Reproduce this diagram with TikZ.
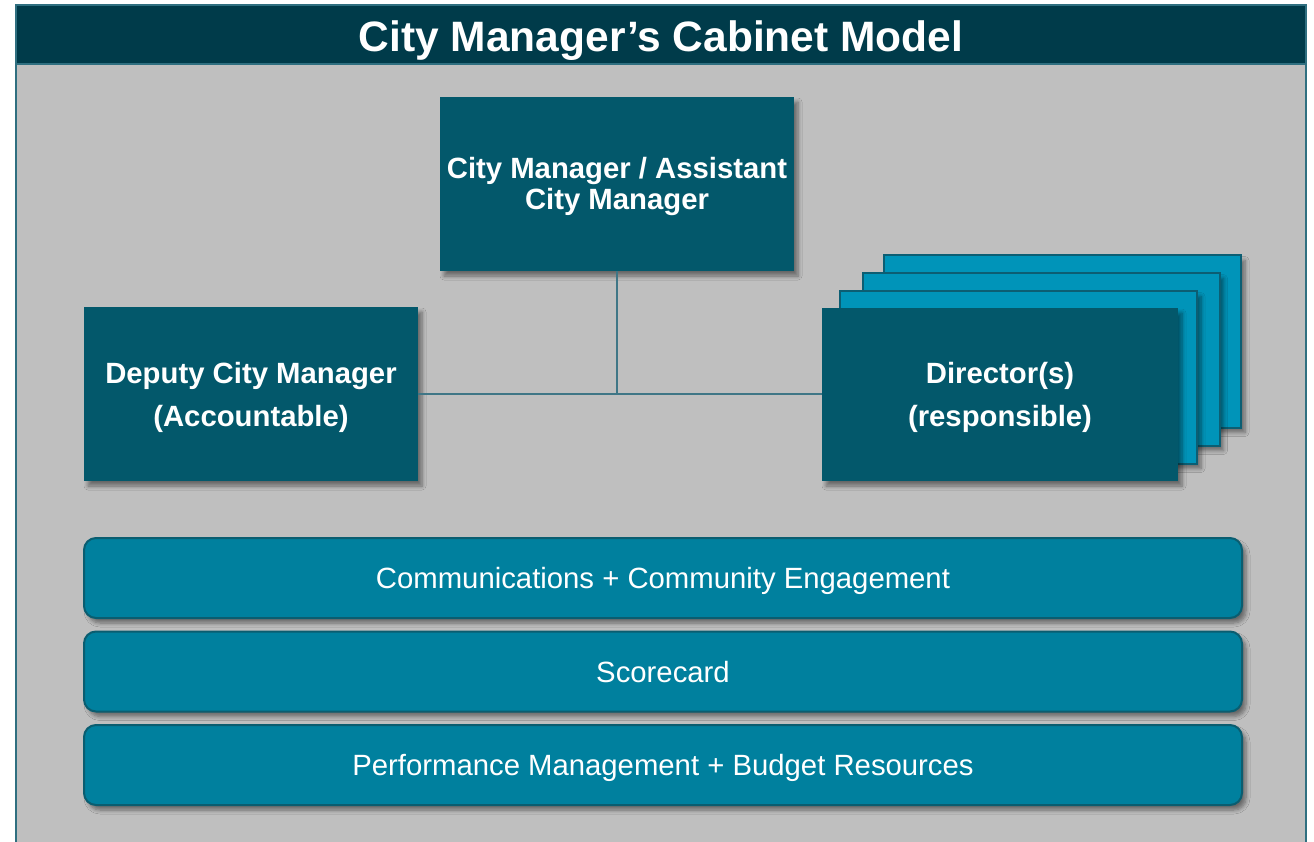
\documentclass[tikz,border=0pt]{standalone}
\usepackage{fontspec}
\setmainfont{Liberation Sans}
\usetikzlibrary{shadows.blur}
\definecolor{titlebg}{HTML}{003B4A}
\definecolor{frameline}{HTML}{2F6F80}
\definecolor{bodybg}{HTML}{BFBFBF}
\definecolor{boxdark}{HTML}{03586B}
\definecolor{cardlight}{HTML}{0094B9}
\definecolor{cardline}{HTML}{0C5E73}
\definecolor{barfill}{HTML}{00809E}
\definecolor{barline}{HTML}{0A5D70}
\definecolor{connline}{HTML}{3F7686}
\tikzset{
  shd/.style={blur shadow={shadow xshift=4pt, shadow yshift=-5pt, shadow blur radius=4pt, shadow blur steps=6, shadow opacity=45}},
  darkbox/.style={fill=boxdark, text=white, inner sep=0pt, align=center, text depth=0pt, font=\fontsize{29.3}{31}\selectfont\bfseries, shd},
  card/.style={fill=cardlight, draw=cardline, line width=2pt, inner sep=0pt, minimum width=357pt, minimum height=172pt, shd},
  barbox/.style={fill=barfill, draw=barline, line width=2pt, rounded corners=12pt, text=white, inner sep=0pt, minimum width=1158pt, minimum height=80pt, text height=21pt, text depth=0pt, font=\fontsize{29.3}{31}\selectfont, shd},
  conn/.style={draw=connline, line width=2pt},
}
\begin{document}
\begin{tikzpicture}[x=1pt,y=-1pt]
\useasboundingbox (0,0) rectangle (1314,842);
% frame and body
\fill[bodybg] (16,64) rectangle (1306,842);
\draw[frameline, line width=2pt] (16,850) -- (16,5) -- (1306,5) -- (1306,850);
\fill[titlebg] (17,6) rectangle (1305,63);
\draw[frameline, line width=2pt] (16,64) -- (1306,64);
\node[text=white, inner sep=0pt, text height=30.5pt, text depth=0pt, font=\fontsize{42.5}{46}\selectfont\bfseries] (title) at (661,36) {City Manager’s Cabinet Model};
% city manager
\node[darkbox, text height=52pt, minimum width=354pt, minimum height=174pt] (cm) at (617,184) {City Manager / Assistant\\City Manager};
% deputy
\node[darkbox, text height=64pt, minimum width=334pt, minimum height=174pt] (dep) at (251,394) {Deputy City Manager\\[12pt](Accountable)};
% director stack
\node[card] (c3) at (1062.5,341.5) {};
\node[card] (c2) at (1041,359.5) {};
\node[card] (c1) at (1018.5,377.5) {};
\node[darkbox, text height=64pt, minimum width=356pt, minimum height=173pt] (dir) at (1000,394.5) {Director(s)\\[12pt](responsible)};
% connectors
\coordinate (junc) at (cm.south |- dep.east);
\draw[conn] (cm.south) -- (junc);
\draw[conn] (dep.east) -- (dep.east -| dir.west);
% bars
\node[barbox] (comm) at (663,578) {Communications + Community Engagement};
\node[barbox] (score) at (663,671.5) {Scorecard};
\node[barbox] (perf) at (663,765) {Performance Management + Budget Resources};
\end{tikzpicture}
\end{document}
